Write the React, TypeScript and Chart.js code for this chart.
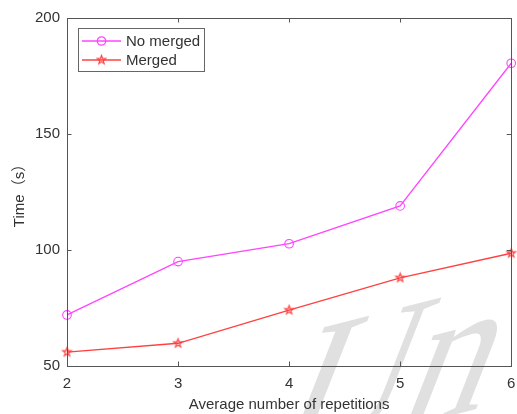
import { useEffect, useRef } from 'react';
import { Chart, registerables } from 'chart.js';

Chart.register(...registerables);

const repetitions = [2, 3, 4, 5, 6];
const noMerged = [72, 95, 102.7, 119, 180.5];
const merged = [56, 59.8, 74.1, 88, 98.6];
const xTickValues = [2, 3, 4, 5, 6];
const yTickValues = [50, 100, 150, 200];
const seriesLabels = ['No merged', 'Merged'];
const xTitle = 'Average number of repetitions';
const yTitle = 'Time（s）';
const watermarkText = 'Un';

const FONT = "'Liberation Sans', Arial, 'Noto Sans CJK SC', sans-serif";
const TEXT = '#333333';
const AXIS = '#555555';
const MAGENTA = '#ff44ff';
const RED = '#ff4040';

function makeStar(color: string, r: number) {
  const size = Math.ceil(r * 2 + 4);
  const c = document.createElement('canvas');
  c.width = size;
  c.height = size;
  const ctx = c.getContext('2d')!;
  const cx = size / 2, cy = size / 2;
  ctx.beginPath();
  for (let i = 0; i < 10; i++) {
    const rad = i % 2 === 0 ? r : r * 0.4;
    const a = -Math.PI / 2 + (i * Math.PI) / 5;
    const px = cx + rad * Math.cos(a);
    const py = cy + rad * Math.sin(a);
    if (i === 0) ctx.moveTo(px, py); else ctx.lineTo(px, py);
  }
  ctx.closePath();
  ctx.strokeStyle = color;
  ctx.lineWidth = 1.2;
  ctx.stroke();
  return c;
}

export default function App() {
  const ref = useRef<HTMLCanvasElement | null>(null);

  useEffect(() => {
    const canvas = ref.current!;
    const star = makeStar(RED, 4.5);

    const watermark = {
      id: 'watermark',
      beforeDraw(chart: any) {
        const ctx = chart.ctx;
        ctx.save();
        ctx.translate(268, 462);
        ctx.rotate(-0.25);
        ctx.transform(1, 0, -0.72, 1, 0, 0);
        ctx.font = "178px 'Liberation Serif', serif";
        ctx.fillStyle = '#e0e0e0';
        ctx.textBaseline = 'alphabetic';
        ctx.fillText(watermarkText, 0, 0);
        ctx.restore();
      },
    };

    const frame = {
      id: 'frame',
      afterDraw(chart: any) {
        const ctx = chart.ctx;
        const { left, right, top, bottom } = chart.chartArea;
        const xs = chart.scales.x;
        const ys = chart.scales.y;
        ctx.save();
        ctx.strokeStyle = AXIS;
        ctx.lineWidth = 1;
        ctx.strokeRect(Math.round(left) + 0.5, Math.round(top) + 0.5, Math.round(right - left), Math.round(bottom - top));
        ctx.beginPath();
        const tl = 4.5;
        xTickValues.forEach((v) => {
          const px = Math.round(xs.getPixelForValue(v)) + 0.5;
          ctx.moveTo(px, bottom);
          ctx.lineTo(px, bottom - tl);
          ctx.moveTo(px, top);
          ctx.lineTo(px, top + tl);
        });
        yTickValues.forEach((v) => {
          const py = Math.round(ys.getPixelForValue(v)) + 0.5;
          ctx.moveTo(left, py);
          ctx.lineTo(left + tl, py);
          ctx.moveTo(right, py);
          ctx.lineTo(right - tl, py);
        });
        ctx.stroke();

        // legend
        const bx = 78.5, by = 28.5, bw = 126, bh = 43;
        ctx.fillStyle = '#ffffff';
        ctx.fillRect(bx, by, bw, bh);
        ctx.strokeStyle = '#666666';
        ctx.strokeRect(bx, by, bw, bh);
        const rows = [
          { label: seriesLabels[0], color: MAGENTA, y: 41 },
          { label: seriesLabels[1], color: RED, y: 60 },
        ];
        ctx.font = `15px ${FONT}`;
        ctx.textBaseline = 'middle';
        rows.forEach((r, i) => {
          ctx.strokeStyle = r.color;
          ctx.lineWidth = 1.3;
          ctx.beginPath();
          ctx.moveTo(82, r.y);
          ctx.lineTo(121, r.y);
          ctx.stroke();
          if (i === 0) {
            ctx.beginPath();
            ctx.arc(101.5, r.y, 4.2, 0, Math.PI * 2);
            ctx.stroke();
          } else {
            ctx.drawImage(star, 101.5 - star.width / 2, r.y - star.height / 2);
          }
          ctx.fillStyle = TEXT;
          ctx.fillText(r.label, 126, r.y + 1);
        });
        ctx.restore();
      },
    };

    const chart = new Chart(canvas, {
      type: 'line',
      data: {
        labels: repetitions,
        datasets: [
          {
            label: seriesLabels[0],
            data: repetitions.map((x, i) => ({ x, y: noMerged[i] })),
            borderColor: MAGENTA,
            backgroundColor: 'rgba(0,0,0,0)',
            borderWidth: 1.3,
            pointStyle: 'circle',
            pointRadius: 4.3,
            pointBorderWidth: 1.1,
            pointBorderColor: MAGENTA,
            pointBackgroundColor: 'rgba(0,0,0,0)',
            tension: 0,
            clip: false as any,
          },
          {
            label: seriesLabels[1],
            data: repetitions.map((x, i) => ({ x, y: merged[i] })),
            borderColor: RED,
            backgroundColor: 'rgba(0,0,0,0)',
            borderWidth: 1.3,
            pointStyle: star as any,
            pointRadius: 4.5,
            tension: 0,
            clip: false as any,
          },
        ],
      },
      options: {
        responsive: false,
        animation: false,
        events: [],
        layout: { padding: { left: 0, top: 18, right: 5, bottom: 0 } },
        plugins: {
          legend: { display: false },
          tooltip: { enabled: false },
        },
        scales: {
          x: {
            type: 'linear',
            min: 2,
            max: 6,
            afterBuildTicks: (s: any) => {
              s.ticks = xTickValues.map((v) => ({ value: v }));
            },
            afterFit: (s: any) => {
              s.height = 48;
              s.paddingLeft = 0;
              s.paddingRight = 0;
            },
            grid: { display: false, drawTicks: false },
            border: { display: false },
            ticks: {
              color: TEXT,
              font: { family: FONT, size: 15 },
              padding: 9,
              maxRotation: 0,
              autoSkip: false,
            },
            title: {
              display: true,
              text: xTitle,
              color: TEXT,
              font: { family: FONT, size: 15 },
              padding: { top: 0, bottom: 0 },
            },
          },
          y: {
            type: 'linear',
            min: 50,
            max: 200,
            afterBuildTicks: (s: any) => {
              s.ticks = yTickValues.map((v) => ({ value: v }));
            },
            afterFit: (s: any) => {
              s.width = 67;
              s.paddingTop = 0;
              s.paddingBottom = 0;
            },
            grid: { display: false, drawTicks: false },
            border: { display: false },
            ticks: {
              color: TEXT,
              font: { family: FONT, size: 15 },
              padding: 7,
            },
            title: {
              display: true,
              text: yTitle,
              color: TEXT,
              font: { family: FONT, size: 15 },
              padding: { top: 11, bottom: 0 },
            },
          },
        },
      },
      plugins: [watermark, frame],
    } as any);

    return () => chart.destroy();
  }, []);

  return (
    <div style={{ position: 'fixed', left: 0, top: 0, width: 517, height: 414, background: '#fff' }}>
      <canvas ref={ref} width={517} height={414} />
    </div>
  );
}
